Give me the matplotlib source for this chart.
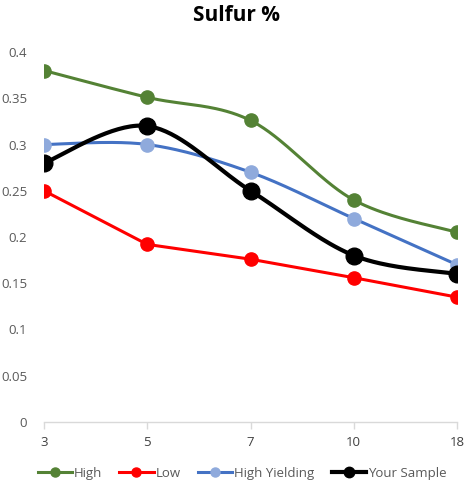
import numpy as np
import matplotlib
matplotlib.use("Agg")
import matplotlib.pyplot as plt
from matplotlib.lines import Line2D

# Sulfur content by category
categories = ["3", "5", "7", "10", "18"]
high = [0.38, 0.351, 0.326, 0.24, 0.205]
low = [0.25, 0.192, 0.176, 0.156, 0.135]
high_yielding = [0.30, 0.30, 0.27, 0.22, 0.17]
your_sample = [0.28, 0.32, 0.25, 0.18, 0.16]

plt.rcParams["font.family"] = ["Open Sans", "DejaVu Sans"]


def smooth(xs, ys, n=40):
    """Catmull-Rom style cubic Bezier smoothing through every point."""
    pts = np.column_stack([xs, ys]).astype(float)
    out = [pts[0]]
    m = len(pts)
    for i in range(m - 1):
        p0 = pts[max(i - 1, 0)]
        p1 = pts[i]
        p2 = pts[i + 1]
        p3 = pts[min(i + 2, m - 1)]
        c1 = p1 + (p2 - p0) / 6.0
        c2 = p2 - (p3 - p1) / 6.0
        t = np.linspace(0, 1, n)[1:, None]
        seg = ((1 - t) ** 3) * p1 + 3 * ((1 - t) ** 2) * t * c1 + 3 * (1 - t) * t ** 2 * c2 + t ** 3 * p2
        out.extend(seg)
    out = np.array(out)
    return out[:, 0], out[:, 1]


fig = plt.figure(figsize=(4.65, 4.94), dpi=100)
ax = fig.add_axes([44 / 465, 1 - 422 / 494, (457 - 44) / 465, (422 - 52) / 494])

x = np.arange(len(categories))
# name, values, line colour, marker colour, line width, marker size, legend marker size, smoothed
series = [
    ("High", high, "#548235", "#548235", 2.2, 9.5, 6.5, True),
    ("Low", low, "#FF0000", "#FF0000", 2.2, 9.5, 6.5, False),
    ("High Yielding", high_yielding, "#4472C4", "#8FAADC", 2.2, 9.5, 6.5, True),
    ("Your Sample", your_sample, "#000000", "#000000", 3.0, 12, 7.5, True),
]

handles = []
for name, vals, lc, mc, lw, ms, lms, is_smooth in series:
    if is_smooth:
        sx, sy = smooth(x, vals)
    else:
        sx, sy = x, vals
    ax.plot(sx, sy, color=lc, lw=lw, solid_capstyle="round", solid_joinstyle="round", zorder=2)
    ax.plot(x, vals, linestyle="none", marker="o", ms=ms, color=mc, mec=mc, zorder=3)
    handles.append(Line2D([0], [0], color=lc, lw=lw, marker="o", ms=lms, mfc=mc, mec=mc, label=name))

ax.set_xlim(0, len(categories) - 1)
ax.set_ylim(0, 0.4)
ax.set_xticks(x)
ax.set_xticklabels(categories)
yt = [0, 0.05, 0.1, 0.15, 0.2, 0.25, 0.3, 0.35, 0.4]
ax.set_yticks(yt)
ax.set_yticklabels(["0", "0.05", "0.1", "0.15", "0.2", "0.25", "0.3", "0.35", "0.4"])

for s in ["top", "right", "left"]:
    ax.spines[s].set_visible(False)
ax.spines["bottom"].set_color("#D9D9D9")
ax.spines["bottom"].set_linewidth(1.0)
ax.tick_params(axis="x", length=5, color="#D9D9D9", width=1.0, labelsize=9.5, labelcolor="#404040", pad=5)
ax.tick_params(axis="y", length=0, labelsize=9.5, labelcolor="#595959", pad=12)
ax.patch.set_alpha(0)
for lbl in ax.get_xticklabels():
    lbl.set_clip_on(False)

fig.suptitle("Sulfur %", x=236 / 465, y=1 - 5 / 494, va="top", fontsize=15, fontweight="bold", color="#000000")

fig.legend(handles=handles, loc="center", bbox_to_anchor=(242 / 465, 1 - 473 / 494), ncol=4, frameon=False,
           fontsize=9.5, labelcolor="#595959", handlelength=2.6, handletextpad=0.15, columnspacing=1.3)

fig.savefig("out.png", dpi=100)
